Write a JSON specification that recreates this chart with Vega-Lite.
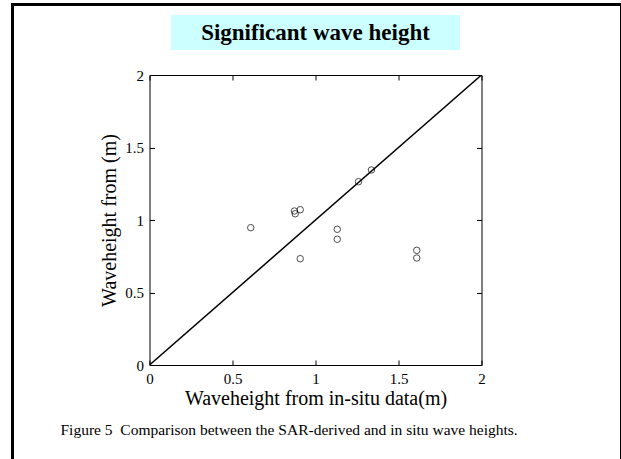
{
  "$schema": "https://vega.github.io/schema/vega-lite/v6.json",
  "background": "white",
  "padding": {"left": 11, "top": 3, "right": 0, "bottom": 0},
  "columns": 3,
  "bounds": "flush",
  "align": "each",
  "center": {"column": true, "row": false},
  "spacing": 0,
  "config": {"view": {"stroke": null}, "font": "Liberation Serif"},
  "datasets": {
    "points": [
      {"x": 0.61, "y": 0.947},
      {"x": 0.873, "y": 1.062},
      {"x": 0.878, "y": 1.043},
      {"x": 0.908, "y": 1.071},
      {"x": 0.908, "y": 0.733},
      {"x": 1.131, "y": 0.936},
      {"x": 1.131, "y": 0.867},
      {"x": 1.259, "y": 1.264},
      {"x": 1.337, "y": 1.345},
      {"x": 1.61, "y": 0.791},
      {"x": 1.61, "y": 0.738}
    ],
    "diag": [{"x": 0, "y": 0}, {"x": 2, "y": 2}],
    "blank": [{"t": ""}]
  },
  "concat": [
    {"width": 3, "height": 3, "view": {"fill": "black"}, "data": {"name": "blank"}, "mark": {"type": "point", "size": 0, "opacity": 0}},
    {"width": 606, "height": 3, "view": {"fill": "black"}, "data": {"name": "blank"}, "mark": {"type": "point", "size": 0, "opacity": 0}},
    {"width": 1, "height": 3, "view": {"fill": "black"}, "data": {"name": "blank"}, "mark": {"type": "point", "size": 0, "opacity": 0}},

    {"width": 3, "height": 9, "view": {"fill": "black"}, "data": {"name": "blank"}, "mark": {"type": "point", "size": 0, "opacity": 0}},
    {"width": 1, "height": 1, "data": {"name": "blank"}, "mark": {"type": "point", "size": 0, "opacity": 0}},
    {"width": 1, "height": 9, "view": {"fill": "black"}, "data": {"name": "blank"}, "mark": {"type": "point", "size": 0, "opacity": 0}},

    {"width": 3, "height": 35, "view": {"fill": "black"}, "data": {"name": "blank"}, "mark": {"type": "point", "size": 0, "opacity": 0}},
    {"width": 289, "height": 35, "view": {"fill": "#ccffff"}, "data": {"name": "blank"},
     "mark": {"type": "text", "font": "Liberation Serif", "fontSize": 23, "fontWeight": "bold", "color": "black", "align": "center", "baseline": "middle"},
     "encoding": {"text": {"value": "Significant wave height"}}},
    {"width": 1, "height": 35, "view": {"fill": "black"}, "data": {"name": "blank"}, "mark": {"type": "point", "size": 0, "opacity": 0}},

    {"width": 3, "height": 25, "view": {"fill": "black"}, "data": {"name": "blank"}, "mark": {"type": "point", "size": 0, "opacity": 0}},
    {"width": 1, "height": 1, "data": {"name": "blank"}, "mark": {"type": "point", "size": 0, "opacity": 0}},
    {"width": 1, "height": 25, "view": {"fill": "black"}, "data": {"name": "blank"}, "mark": {"type": "point", "size": 0, "opacity": 0}},

    {"width": 3, "height": 290, "view": {"fill": "black"}, "data": {"name": "blank"}, "mark": {"type": "point", "size": 0, "opacity": 0}},
    {
      "width": 332,
      "height": 290,
      "view": {"stroke": "black", "strokeWidth": 1},
      "title": {"text": "Figure 5\u00a0\u00a0Comparison between the SAR-derived and in situ wave heights.", "orient": "bottom", "anchor": "start", "frame": "group", "dx": -89, "offset": 15, "font": "Liberation Serif", "fontSize": 15.5, "fontWeight": "normal", "color": "black"},
      "layer": [
        {
          "data": {"name": "diag"},
          "mark": {"type": "line", "color": "black", "strokeWidth": 1.5, "clip": true},
          "encoding": {
            "x": {"field": "x", "type": "quantitative", "scale": {"domain": [0, 2], "nice": false, "zero": false},
              "axis": {"orient": "bottom", "values": [0, 0.5, 1, 1.5, 2], "format": "~g", "tickSize": -5, "tickColor": "black", "domain": false, "grid": false,
                "labelFont": "Liberation Serif", "labelFontSize": 15, "labelColor": "black", "labelPadding": 11, "labelFlush": false, "labelOverlap": false,
                "title": "Waveheight from in-situ data(m)", "titleFont": "Liberation Serif", "titleFontSize": 20, "titleFontWeight": "normal", "titleColor": "black", "titlePadding": 2}},
            "y": {"field": "y", "type": "quantitative", "scale": {"domain": [0, 2], "nice": false, "zero": false},
              "axis": {"orient": "left", "values": [0, 0.5, 1, 1.5, 2], "format": "~g", "tickSize": -5, "tickColor": "black", "domain": false, "grid": false,
                "labelFont": "Liberation Serif", "labelFontSize": 15, "labelColor": "black", "labelPadding": 11, "labelFlush": false, "labelOverlap": false,
                "title": "Waveheight from (m)", "titleFont": "Liberation Serif", "titleFontSize": 20, "titleFontWeight": "normal", "titleColor": "black", "titlePadding": 5}}
          }
        },
        {
          "data": {"name": "points"},
          "mark": {"type": "point", "shape": "circle", "filled": false, "color": "black", "size": 42, "strokeWidth": 1},
          "encoding": {
            "x": {"field": "x", "type": "quantitative",
              "axis": {"orient": "top", "values": [0, 0.5, 1, 1.5, 2], "tickSize": -5, "tickColor": "black", "domain": false, "grid": false, "labels": false, "title": null}},
            "y": {"field": "y", "type": "quantitative",
              "axis": {"orient": "right", "values": [0, 0.5, 1, 1.5, 2], "tickSize": -5, "tickColor": "black", "domain": false, "grid": false, "labels": false, "title": null}}
          }
        }
      ],
      "resolve": {"axis": {"x": "independent", "y": "independent"}}
    },
    {"width": 1, "height": 290, "view": {"fill": "black"}, "data": {"name": "blank"}, "mark": {"type": "point", "size": 0, "opacity": 0}},

    {"width": 3, "height": 94, "view": {"fill": "black"}, "data": {"name": "blank"}, "mark": {"type": "point", "size": 0, "opacity": 0}},
    {"width": 1, "height": 1, "data": {"name": "blank"}, "mark": {"type": "point", "size": 0, "opacity": 0}},
    {"width": 1, "height": 94, "view": {"fill": "black"}, "data": {"name": "blank"}, "mark": {"type": "point", "size": 0, "opacity": 0}}
  ]
}
